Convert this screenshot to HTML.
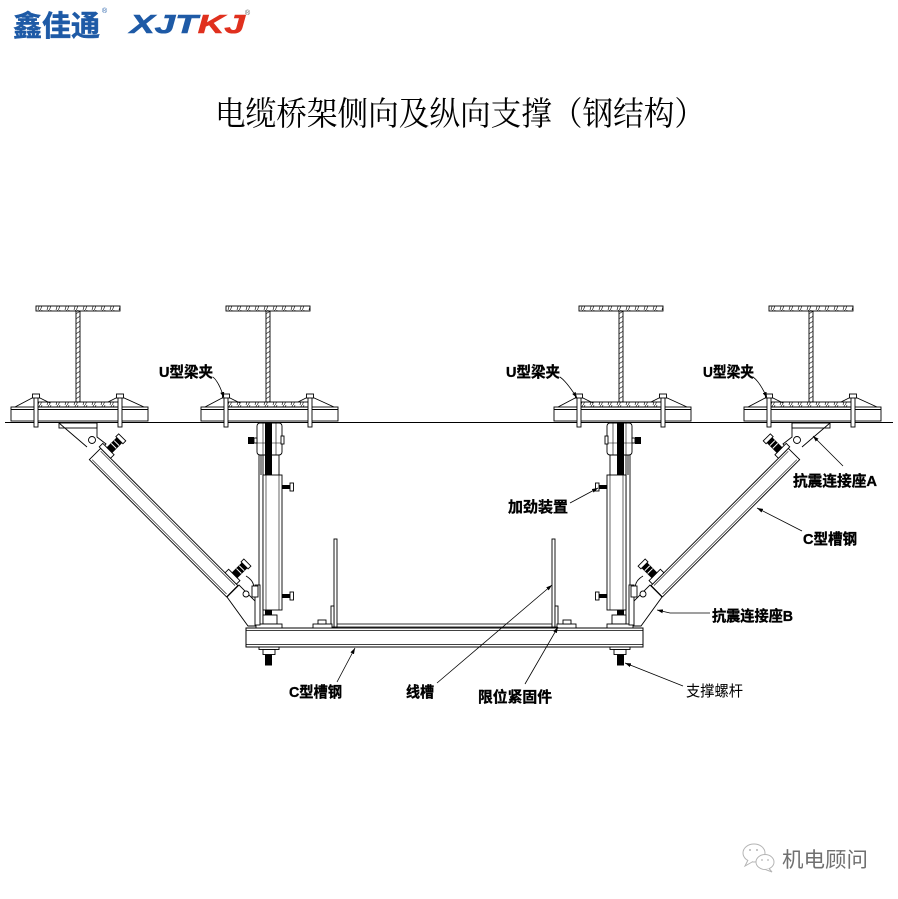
<!DOCTYPE html>
<html>
<head>
<meta charset="utf-8">
<style>
html,body{margin:0;padding:0;background:#fff;}
svg{display:block;}
.lb{font-family:"Liberation Sans","Noto Sans CJK SC",sans-serif;font-weight:bold;font-size:15px;fill:#000;stroke:#000;stroke-width:0.35px;}
.ln{font-family:"Liberation Sans","Noto Sans CJK SC",sans-serif;font-weight:normal;font-size:15px;fill:#000;}
</style>
</head>
<body>
<svg width="898" height="899" viewBox="0 0 898 899" xmlns="http://www.w3.org/2000/svg">
<defs>
  <pattern id="hf" width="9" height="5" patternUnits="userSpaceOnUse">
    <path d="M2 5L3.5 0M4.5 5L6 0" stroke="#000" stroke-width="0.6" fill="none"/>
  </pattern>
  <pattern id="hw" width="4" height="5" patternUnits="userSpaceOnUse">
    <path d="M0.5 3.5L3.5 1.5" stroke="#000" stroke-width="0.6" fill="none"/>
  </pattern>
  <marker id="ar" markerWidth="6" markerHeight="4" refX="6" refY="2" orient="auto" markerUnits="userSpaceOnUse">
    <path d="M0 0L6 2L0 4z" fill="#000"/>
  </marker>
  <g id="beam" stroke="#000" stroke-width="0.9" fill="#fff">
    <rect x="0" y="306" width="84" height="5" fill="url(#hf)"/>
    <rect x="40" y="311" width="4" height="91" fill="url(#hw)"/>
    <rect x="-1" y="402" width="86" height="5" fill="url(#hf)"/>
    <rect x="-25" y="407" width="137" height="14" fill="none"/>
    <line x1="-25" y1="409.5" x2="112" y2="409.5"/>
    <path d="M-21 407L-2 397M2 397L14 403M82 397L72 402M86 397L108 407" fill="none"/>
    <rect x="-2" y="396" width="4" height="31"/>
    <rect x="82" y="396" width="4" height="31"/>
    <rect x="-3.5" y="394" width="7" height="4"/>
    <rect x="80.5" y="394" width="7" height="4"/>
  </g>
  <g id="asm" stroke="#000" stroke-width="0.9" fill="#fff">
    <rect x="59" y="423" width="38" height="5" fill="none"/>
    <path d="M59 423L87 447M97 423V437L106 444L101 450" fill="none"/>
    <circle cx="92" cy="440" r="3.5"/>
    <g transform="translate(95,454) rotate(45)">
      <rect x="0" y="-8" width="194" height="16"/>
      <line x1="2" y1="-6" x2="192" y2="-6" stroke-width="0.6"/>
      <line x1="2" y1="6" x2="192" y2="6" stroke-width="0.6"/>
      <rect x="-2" y="-13" width="16" height="5"/>
      <rect x="176" y="-13" width="16" height="5"/>
      <rect x="4" y="-27" width="7" height="14" fill="#000"/>
      <path d="M4 -23H11M4 -19H11" stroke="#fff" stroke-width="1"/>
      <rect x="2.5" y="-31" width="10" height="4"/>
      <rect x="181" y="-27" width="7" height="14" fill="#000"/>
      <path d="M181 -23H188M181 -19H188" stroke="#fff" stroke-width="1"/>
      <rect x="179.5" y="-31" width="10" height="4"/>
    </g>
    <polygon points="227,597 239,585 256,602 256,626 248,626"/>
    <circle cx="246" cy="594" r="3"/>
    <path d="M246 576Q256 582 253 591" fill="none"/>
    <rect x="259" y="453" width="4" height="175"/>
    <line x1="261" y1="455" x2="261" y2="475"/>
    <line x1="279" y1="455" x2="279" y2="475"/>
    <rect x="257" y="423" width="25" height="32" rx="3"/>
    <line x1="257" y1="443" x2="282" y2="443" stroke-width="0.6"/>
    <line x1="263" y1="423" x2="263" y2="455" stroke-width="0.6"/>
    <line x1="276" y1="423" x2="276" y2="455" stroke-width="0.6"/>
    <rect x="265" y="423" width="7" height="52" fill="#000" stroke="none"/>
    <rect x="248" y="437" width="6" height="7" fill="#000" stroke="none"/>
    <rect x="254" y="438" width="3" height="5"/>
    <rect x="281" y="436" width="3" height="8"/>
    <rect x="263" y="475" width="19" height="135"/>
    <line x1="266" y1="475" x2="266" y2="610" stroke-width="0.6"/>
    <line x1="279" y1="475" x2="279" y2="610" stroke-width="0.6"/>
    <rect x="282" y="485" width="8" height="4" fill="#000" stroke="none"/>
    <rect x="290" y="483" width="3.5" height="8"/>
    <rect x="282" y="594" width="8" height="4" fill="#000" stroke="none"/>
    <rect x="290" y="592" width="3.5" height="8"/>
    <rect x="265" y="610" width="7" height="6" fill="#000" stroke="none"/>
    <rect x="263" y="615" width="14" height="9"/>
    <rect x="256" y="624" width="26" height="4"/>
    <rect x="255" y="585" width="5" height="40"/>
    <rect x="252" y="586" width="6" height="11"/>
    <rect x="334" y="539" width="3" height="88"/>
    <rect x="331" y="606" width="3" height="21"/>
    <rect x="313" y="624" width="19" height="4"/>
    <rect x="318" y="620" width="8" height="4"/>
    <rect x="259" y="647" width="20" height="2.5"/>
    <rect x="263" y="649.5" width="12" height="5"/>
    <rect x="265" y="654.5" width="7" height="11" fill="#000" stroke="none"/>
  </g>
</defs>

<rect width="898" height="899" fill="#fff"/>

<text x="13" y="36" font-family="'Liberation Sans','Noto Sans CJK SC',sans-serif" font-weight="bold" font-size="29" fill="#1e5aa6" stroke="#1e5aa6" stroke-width="0.5" textLength="87" lengthAdjust="spacingAndGlyphs">鑫佳通</text>
<text x="102" y="13" font-family="'Liberation Sans',sans-serif" font-size="7" fill="#1e5aa6">®</text>
<text x="130" y="33" font-family="'Liberation Sans',sans-serif" font-weight="bold" font-style="italic" font-size="26" textLength="115" lengthAdjust="spacingAndGlyphs"><tspan fill="#1e5aa6" stroke="#1e5aa6" stroke-width="0.6">XJT</tspan><tspan fill="#e0301e" stroke="#e0301e" stroke-width="0.6">KJ</tspan></text>
<text x="245" y="15" font-family="'Liberation Sans',sans-serif" font-size="7" fill="#555">®</text>

<text x="215" y="125" font-family="'Liberation Serif','Noto Serif CJK SC',serif" font-size="33" fill="#000" textLength="490" lengthAdjust="spacingAndGlyphs">电缆桥架侧向及纵向支撑（钢结构）</text>

<line x1="5" y1="422.5" x2="893" y2="422.5" stroke="#000" stroke-width="1"/>

<use href="#beam" transform="translate(36,0)"/>
<use href="#beam" transform="translate(226,0)"/>
<use href="#beam" transform="translate(579,0)"/>
<use href="#beam" transform="translate(769,0)"/>

<g stroke="#000" fill="#fff" stroke-width="1">
  <rect x="246" y="628" width="397" height="19"/>
  <line x1="246" y1="630.5" x2="643" y2="630.5" stroke-width="0.7"/>
  <line x1="246" y1="644.5" x2="643" y2="644.5" stroke-width="0.7"/>
  <rect x="337" y="624" width="215" height="3" stroke-width="0.8"/>
</g>

<use href="#asm"/>
<use href="#asm" transform="translate(889,0) scale(-1,1)"/>

<g stroke="#000" stroke-width="0.8" fill="none" marker-end="url(#ar)">
  <path d="M213 377Q219 382 224 398"/>
  <path d="M560 377Q567 382 577 398"/>
  <path d="M753 377Q760 382 767 398"/>
  <path d="M843 466L813 436"/>
  <path d="M802 531L757 508"/>
  <path d="M710 613L670 613L657 610"/>
  <path d="M570 503L598 488"/>
  <path d="M683 686L625 663"/>
  <path d="M337 682L355 648"/>
  <path d="M437 683L552 585"/>
  <path d="M525 684L558 627"/>
</g>

<text class="lb" x="159" y="377" textLength="54" lengthAdjust="spacingAndGlyphs">U型梁夹</text>
<text class="lb" x="506" y="377" textLength="54" lengthAdjust="spacingAndGlyphs">U型梁夹</text>
<text class="lb" x="703" y="377" textLength="51" lengthAdjust="spacingAndGlyphs">U型梁夹</text>
<text class="lb" x="793" y="486" textLength="84" lengthAdjust="spacingAndGlyphs">抗震连接座A</text>
<text class="lb" x="803" y="544" textLength="54" lengthAdjust="spacingAndGlyphs">C型槽钢</text>
<text class="lb" x="508" y="512" textLength="60" lengthAdjust="spacingAndGlyphs">加劲装置</text>
<text class="lb" x="712" y="621" textLength="81" lengthAdjust="spacingAndGlyphs">抗震连接座B</text>
<text class="lb" x="289" y="697" textLength="53" lengthAdjust="spacingAndGlyphs">C型槽钢</text>
<text class="lb" x="406" y="697" textLength="28" lengthAdjust="spacingAndGlyphs">线槽</text>
<text class="lb" x="478" y="702" textLength="74" lengthAdjust="spacingAndGlyphs">限位紧固件</text>
<text class="ln" x="686" y="696" textLength="57" lengthAdjust="spacingAndGlyphs">支撑螺杆</text>

<g fill="#fff" stroke="#b5b5b5" stroke-width="1">
  <ellipse cx="754" cy="853" rx="11" ry="9"/>
  <path d="M748 860L745 866L753 861.5"/>
  <ellipse cx="765" cy="862" rx="9" ry="7.5"/>
  <path d="M769 868.5L772 872L765.5 869.5"/>
</g>
<g fill="#b5b5b5">
  <circle cx="750" cy="850" r="1"/>
  <circle cx="757" cy="850" r="1"/>
  <circle cx="762" cy="860" r="0.9"/>
  <circle cx="768" cy="860" r="0.9"/>
</g>
<text x="782" y="867" font-family="'Liberation Sans','Noto Sans CJK SC',sans-serif" font-size="21" fill="#707070" textLength="86" lengthAdjust="spacingAndGlyphs">机电顾问</text>
</svg>
</body>
</html>
